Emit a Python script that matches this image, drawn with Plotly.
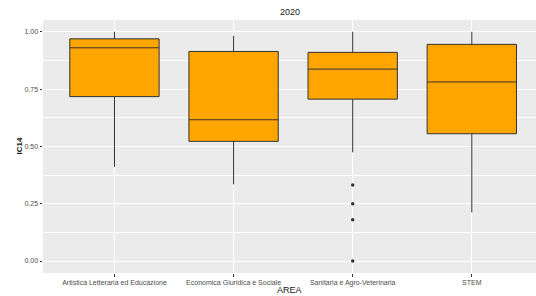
import plotly.graph_objects as go

categories = ["Artistica Letteraria ed Educazione", "Economica Giuridica e Sociale",
              "Sanitaria e Agro-Veterinaria", "STEM"]
lower_whisker = [0.411, 0.334, 0.474, 0.212]
q1_vals = [0.717, 0.522, 0.706, 0.555]
median_vals = [0.930, 0.616, 0.837, 0.781]
q3_vals = [0.969, 0.914, 0.910, 0.945]
upper_whisker = [1.0, 0.982, 1.0, 1.0]
outlier_cat = ["Sanitaria e Agro-Veterinaria"] * 4
outlier_vals = [0.331, 0.250, 0.180, 0.0]
y_ticks = [0.0, 0.25, 0.5, 0.75, 1.0]
y_tick_labels = ["0.00", "0.25", "0.50", "0.75", "1.00"]

W, H = 536, 296
ML, MR, MT, MB = 43, 0, 20, 23
FONT = "Liberation Sans, Arial, sans-serif"

fig = go.Figure()
fig.add_trace(go.Box(
    x=categories, q1=q1_vals, median=median_vals, q3=q3_vals,
    lowerfence=lower_whisker, upperfence=upper_whisker,
    boxpoints=False, width=0.75, whiskerwidth=0,
    fillcolor="#FFA500", line=dict(color="#333333", width=1),
    hoverinfo="skip", showlegend=False,
))
fig.add_trace(go.Scatter(
    x=outlier_cat, y=outlier_vals, mode="markers",
    marker=dict(color="#333333", size=3.5, symbol="circle"),
    showlegend=False, hoverinfo="skip",
))

axis_font = dict(family=FONT, size=7, color="#4D4D4D")
title_font = dict(family=FONT, size=9, color="#1A1A1A")
fig.update_layout(
    width=W, height=H,
    margin=dict(l=ML, r=MR, t=MT, b=MB, autoexpand=False),
    paper_bgcolor="white", plot_bgcolor="#EBEBEB",
    xaxis=dict(
        type="category", categoryorder="array", categoryarray=categories,
        range=[-0.6, 3.539], showgrid=True, gridcolor="white", gridwidth=1.2,
        ticks="outside", ticklen=2.5, tickcolor="#333333", tickwidth=1,
        tickfont=axis_font, zeroline=False, showline=False, automargin=False,
    ),
    yaxis=dict(
        range=[-0.0523, 1.0512], tickvals=y_ticks, ticktext=y_tick_labels,
        showgrid=True, gridcolor="white", gridwidth=1.2,
        minor=dict(tickvals=[0.125, 0.375, 0.625, 0.875], showgrid=True,
                   gridcolor="white", gridwidth=0.6, ticks=""),
        ticks="outside", ticklen=2.5, tickcolor="#333333", tickwidth=1,
        tickfont=axis_font, zeroline=False, showline=False, automargin=False,
    ),
    annotations=[
        dict(text="2020", xref="paper", yref="paper", x=0.5, y=1, yshift=8,
             xanchor="center", yanchor="middle", showarrow=False, font=title_font),
        dict(text="AREA", xref="paper", yref="paper", x=0.5, y=0, yshift=-16.5,
             xanchor="center", yanchor="middle", showarrow=False, font=title_font),
        dict(text="<b>IC14</b>", xref="paper", yref="paper", x=0, y=0.5, xshift=-24,
             xanchor="center", yanchor="middle", showarrow=False, textangle=-90,
             font=dict(family=FONT, size=8, color="#1A1A1A")),
    ],
)
fig.write_html("out.html", config={"displayModeBar": False},
               post_script="document.body.style.margin='0';document.body.style.overflow='hidden';")
